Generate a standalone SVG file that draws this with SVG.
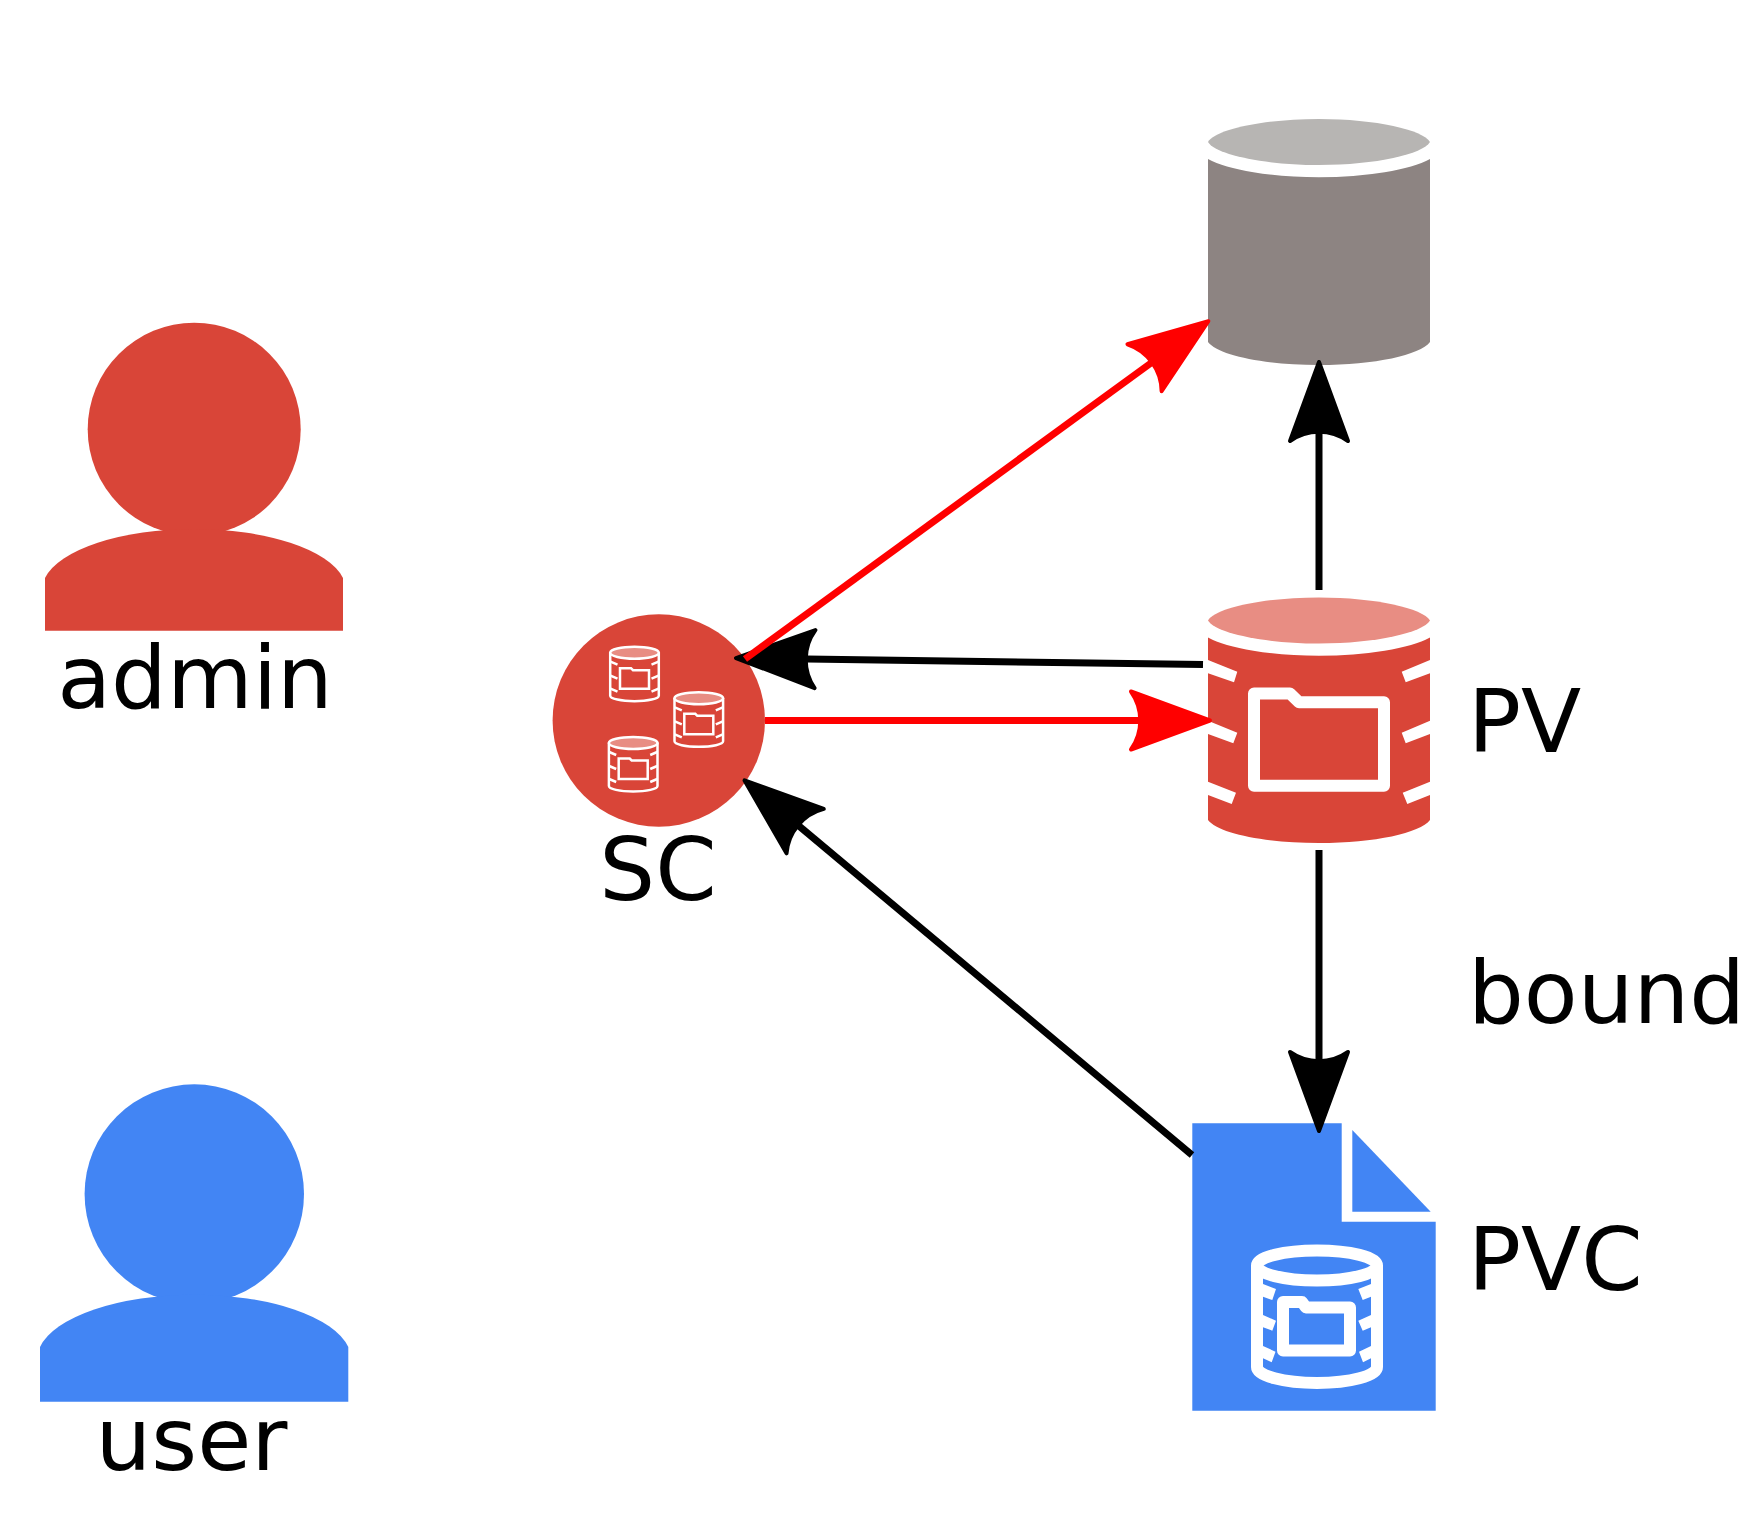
<svg xmlns="http://www.w3.org/2000/svg" xmlns:xlink="http://www.w3.org/1999/xlink" width="1748" height="1523" viewBox="0 0 1748 1523">
<style>
text{font-family:"DejaVu Sans",sans-serif;font-size:88px;fill:#000}
.conn{fill:none;stroke-width:7}
.k{stroke:#000}.r{stroke:#f00}
.red{fill:#d94538}.blue{fill:#4285f4}.w{fill:#fff}
.ws{fill:none;stroke:#fff;stroke-width:12;stroke-linejoin:round}
</style>
<defs>
<marker id="ak" markerUnits="userSpaceOnUse" markerWidth="120" markerHeight="80" refX="12" refY="40" orient="auto" overflow="visible"><path d="M83 40L4 11A50 50 0 0 1 4 69Z" fill="#000" stroke="#000" stroke-width="4" stroke-linejoin="round"/></marker>
<marker id="ar" markerUnits="userSpaceOnUse" markerWidth="120" markerHeight="80" refX="12" refY="40" orient="auto" overflow="visible"><path d="M83 40L4 11A50 50 0 0 1 4 69Z" fill="#f00" stroke="#f00" stroke-width="4" stroke-linejoin="round"/></marker>
<g id="mini">
<path d="M1.200 6.500V50A24.300 5.500 0 0 0 49.800 50V6.500" fill="none" stroke="#fff" stroke-width="2.500"/>
<ellipse cx="25.500" cy="7" rx="24.300" ry="6" fill="#e88d83" stroke="#fff" stroke-width="2.500"/>
<path d="M1.500 16l7 3M1.500 30l7 3M1.500 43l7 3M49.500 16l-7 3M49.500 30l-7 3M49.500 43l-7 3" stroke="#fff" stroke-width="2.500" fill="none"/>
<path d="M11 22.500h11l2 2h16v18.500H11Z" fill="none" stroke="#fff" stroke-width="2.500"/>
</g>
</defs>
<rect width="1748" height="1523" fill="#fff"/>
<g id="storage">
<path d="M1208 142C1215 130 1262 119 1319 119S1423 130 1430 142C1423 154 1376 165 1319 165S1215 154 1208 142Z" fill="#b7b5b3"/>
<path d="M1208 159A123 32 0 0 0 1430 159V342C1420 355 1375 365 1319 365S1218 355 1208 342Z" fill="#8d8482"/>
</g>
<g id="pv">
<path d="M1208 620.500C1215 608.500 1262 597.500 1319 597.500S1423 608.500 1430 620.500C1423 632.500 1376 643.500 1319 643.500S1215 632.500 1208 620.500Z" fill="#e88d83"/>
<path class="red" d="M1208 637.500A123 32 0 0 0 1430 637.500V820C1420 833 1375 843 1319 843S1218 833 1208 820Z"/>
<path class="w" d="M1208 660L1237.300 671.700L1234 682.300L1208 673.300ZM1208 720.700L1237.300 732.700L1233.300 743.300L1208 734ZM1208 781.700L1236 792.700L1231.700 804L1208 795ZM1430 660L1401.700 671.700L1405.700 682.300L1430 673.300ZM1430 720.700L1401.700 732.700L1405.700 743.300L1430 734ZM1430 781.700L1402.700 792.700L1407.300 804L1430 795Z"/>
<path class="ws" d="M1254 693.500H1290L1299 702.300H1384V785.700H1254Z"/>
<text x="1468" y="752">PV</text>
</g>
<g id="pvc">
<path class="blue" d="M1192.300 1123.300H1341.700V1221.700H1435.700V1410.700H1192.300Z"/>
<path class="blue" d="M1352.300 1130L1430.700 1211.700H1352.300Z"/>
<path class="ws" d="M1257 1265V1367A60 16 0 0 0 1377 1367V1265"/>
<ellipse cx="1317" cy="1265.500" rx="60" ry="15" fill="none" stroke="#fff" stroke-width="12"/>
<path class="w" d="M1263 1284L1276 1289L1272.300 1300L1263 1296.700ZM1263 1315L1276 1320.700L1272.300 1330.700L1263 1327.300ZM1263 1346L1275.500 1351.700L1271.700 1362.300L1263 1358.300ZM1371 1284L1358.300 1289L1362.700 1300L1371 1296.700ZM1371 1315L1358.300 1320.700L1362.700 1330.700L1371 1327.300ZM1371 1346L1359 1351.700L1363 1362.300L1371 1358.300Z"/>
<path class="ws" d="M1283 1302H1302L1306 1307.500H1350V1350.500H1283Z"/>
<text x="1468" y="1290">PVC</text>
</g>
<g id="sc">
<circle class="red" cx="658.800" cy="720.500" r="106.200"/>
<use href="#mini" xlink:href="#mini" x="609" y="645.700"/>
<use href="#mini" xlink:href="#mini" x="673.300" y="691.300"/>
<use href="#mini" xlink:href="#mini" x="607.700" y="736"/>
<text x="658" y="900" text-anchor="middle">SC</text>
</g>
<g id="admin">
<circle class="red" cx="194.200" cy="429.200" r="106.500"/>
<path class="red" d="M45 630.700V578A152 61 0 0 1 343 578V630.700Z"/>
<text x="195" y="708" text-anchor="middle">admin</text>
</g>
<g id="user">
<circle class="blue" cx="194.300" cy="1194" r="109.700"/>
<path class="blue" d="M40 1401.700V1347A157 64.600 0 0 1 348.300 1347V1401.700Z"/>
<text x="191.500" y="1470" text-anchor="middle">user</text>
</g>
<g id="connectors">
<path class="conn k" marker-end="url(#ak)" d="M1203 664.500L807 659"/>
<path class="conn r" marker-end="url(#ar)" d="M745 659L1151 363"/>
<path class="conn r" marker-end="url(#ar)" d="M765 720.500H1139"/>
<path class="conn k" marker-end="url(#ak)" d="M1192 1155L799 826"/>
<path class="conn k" marker-end="url(#ak)" d="M1319 590V433"/>
<path class="conn k" marker-end="url(#ak)" d="M1319 850V1060"/>
</g>
<text x="1468" y="1023">bound</text>
</svg>
